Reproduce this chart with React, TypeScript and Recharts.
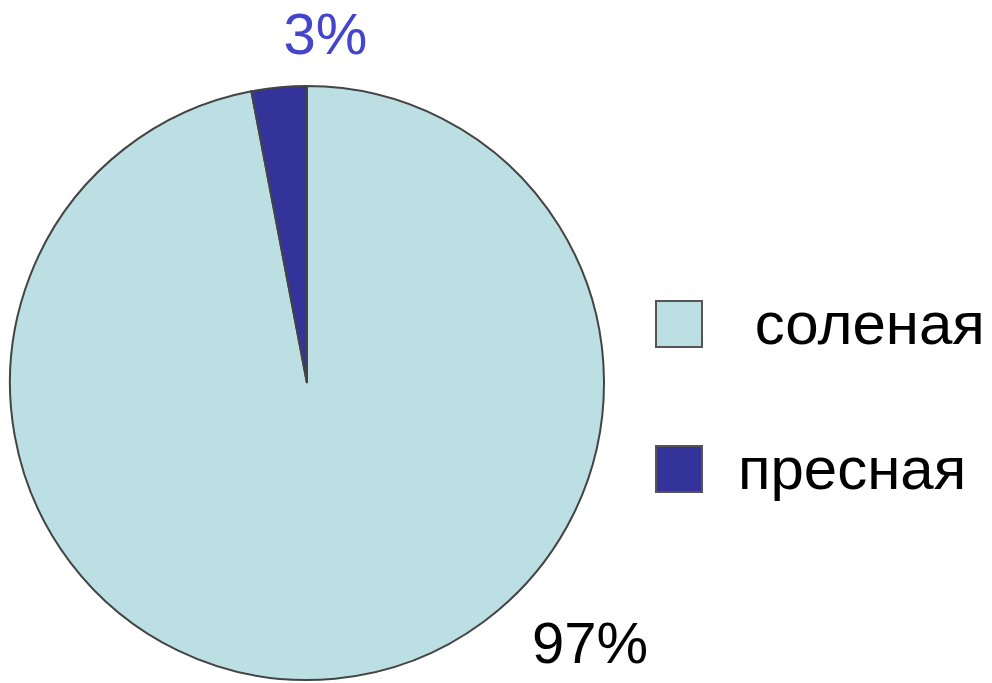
import { PieChart, Pie, Cell, Legend } from "recharts";

const categories = [" соленая", "пресная"];
const shares = [97, 3];
const valueLabels = ["97%", "3%"];

const colors = ["#bbdfe2", "#33339a"];
const labelColors = ["#000000", "#4444cc"];

const data = categories.map((name, i) => ({ name, value: shares[i] }));

// where Excel put the percentages, as angle/distance from the centre
const labelSpots = [
  { angle: -42.5, dist: 384 },
  { angle: 87, dist: 350 },
];

const RAD = Math.PI / 180;

function renderLabel(props: any) {
  const { cx, cy, index } = props;
  const spot = labelSpots[index];
  const x = cx + spot.dist * Math.cos(spot.angle * RAD);
  const y = cy - spot.dist * Math.sin(spot.angle * RAD);
  return (
    <text
      x={x}
      y={y}
      textAnchor="middle"
      dominantBaseline="central"
      fill={labelColors[index]}
      fontSize={58}
      fontFamily="'Liberation Sans', Arial, sans-serif"
    >
      {valueLabels[index]}
    </text>
  );
}

function renderLegend() {
  return (
    <div style={{ fontFamily: "'Liberation Sans', Arial, sans-serif" }}>
      {categories.map((name, i) => (
        <div
          key={name}
          style={{
            display: "flex",
            alignItems: "center",
            height: 48,
            marginBottom: i === 0 ? 97 : 0,
          }}
        >
          <div
            style={{
              width: 44,
              height: 44,
              background: colors[i],
              border: "2px solid #555",
              marginRight: 35,
              flexShrink: 0,
            }}
          />
          <span style={{ fontSize: 60, whiteSpace: "pre", color: "#000", lineHeight: 1 }}>
            {name}
          </span>
        </div>
      ))}
    </div>
  );
}

export default function App() {
  return (
    <div style={{ width: 992, height: 683, background: "#fff" }}>
      <style>{`body{margin:0}`}</style>
      <PieChart width={992} height={683} margin={{ top: 0, right: 0, bottom: 0, left: 0 }}>
        <Pie
          data={data}
          dataKey="value"
          nameKey="name"
          cx={307}
          cy={383}
          outerRadius={297}
          startAngle={90}
          endAngle={-270}
          stroke="#444"
          strokeWidth={2}
          label={renderLabel}
          labelLine={false}
          isAnimationActive={false}
        >
          {data.map((d, i) => (
            <Cell key={d.name} fill={colors[i]} />
          ))}
        </Pie>
        <Legend
          layout="vertical"
          align="right"
          verticalAlign="top"
          content={renderLegend}
          wrapperStyle={{ left: 655, top: 300, width: 337 }}
        />
      </PieChart>
    </div>
  );
}
